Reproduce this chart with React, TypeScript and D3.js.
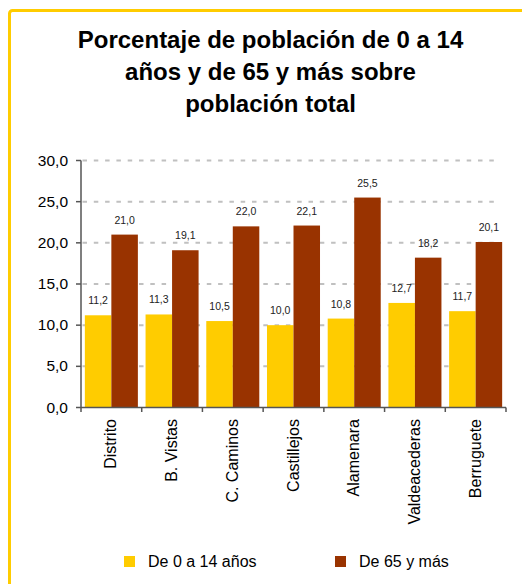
import React from "react";
import * as d3 from "d3";

const categories = ["Distrito", "B. Vistas", "C. Caminos", "Castillejos", "Alamenara", "Valdeacederas", "Berruguete"];
const seriesNames = ["De 0 a 14 años", "De 65 y más"];
const young = [11.2, 11.3, 10.5, 10.0, 10.8, 12.7, 11.7];
const old = [21.0, 19.1, 22.0, 22.1, 25.5, 18.2, 20.1];
const yTicks = [0, 5, 10, 15, 20, 25, 30];
const titleLines = ["Porcentaje de población de 0 a 14", "años y de 65 y más sobre", "población total"];
const colors = ["#FFCC00", "#993300"];

const W = 522;
const H = 584;
const FONT = "Arial, 'Liberation Sans', Helvetica, sans-serif";

export default function App() {
  const x0 = 81;
  const x1 = 506;
  const yBottom = 407.5;
  const yTop = 160.5;

  const x = d3.scaleBand<string>().domain(categories).range([x0, x1]).paddingInner(0).paddingOuter(0);
  const inner = d3
    .scaleBand<string>()
    .domain(["0", "1"])
    .range([0, x.bandwidth()])
    .paddingInner(0)
    .paddingOuter(0.145);
  const y = d3.scaleLinear().domain([0, 30]).range([yBottom, yTop]);
  const fmt = (v: number) => v.toFixed(1).replace(".", ",");
  const series = [young, old];

  return (
    <svg
      width={W}
      height={H}
      style={{ position: "absolute", left: 0, top: 0, display: "block", background: "#fff" }}
      fontFamily={FONT}
    >
      <rect x={9.5} y={10.5} width={700} height={800} rx={3} fill="none" stroke="#FFCC00" strokeWidth={3} />

      {titleLines.map((t, i) => (
        <text key={i} x={270.5} y={47.5 + i * 32} textAnchor="middle" fontSize={24} fontWeight="bold" fill="#000">
          {t}
        </text>
      ))}

      {/* gridlines */}
      {yTicks
        .filter((t) => t > 0)
        .map((t) => (
          <line
            key={"g" + t}
            x1={x0 + 1.5}
            x2={500}
            y1={y(t)}
            y2={y(t)}
            stroke="#c0c0c0"
            strokeWidth={2}
            strokeDasharray="4.5,6.8"
          />
        ))}

      {/* bars */}
      {categories.map((c, i) => (
        <g key={c} transform={`translate(${x(c)},0)`}>
          {series.map((s, k) => (
            <rect
              key={k}
              x={inner(String(k))}
              y={y(s[i])}
              width={inner.bandwidth()}
              height={yBottom - y(s[i])}
              fill={colors[k]}
            />
          ))}
          {series.map((s, k) => (
            <text
              key={"l" + k}
              x={(inner(String(k)) || 0) + inner.bandwidth() / 2}
              y={y(s[i]) - 11}
              textAnchor="middle"
              fontSize={10.5}
              fill="#222"
            >
              {fmt(s[i])}
            </text>
          ))}
        </g>
      ))}

      {/* y axis */}
      <line x1={x0} x2={x0} y1={yTop} y2={yBottom} stroke="#555" strokeWidth={1.5} />
      {yTicks.map((t) => (
        <g key={"yt" + t}>
          <line x1={x0 - 5} x2={x0} y1={y(t)} y2={y(t)} stroke="#555" strokeWidth={1.5} />
          <text x={68} y={y(t) + 5} textAnchor="end" fontSize={15.5} fill="#000">
            {fmt(t)}
          </text>
        </g>
      ))}

      {/* x axis */}
      <line x1={x0} x2={x1} y1={yBottom} y2={yBottom} stroke="#555" strokeWidth={1.5} />
      {categories.map((c) => (
        <line key={"xt" + c} x1={(x(c) || 0) + x.bandwidth()} x2={(x(c) || 0) + x.bandwidth()} y1={yBottom} y2={yBottom + 4.5} stroke="#555" strokeWidth={1.5} />
      ))}
      <line x1={x0} x2={x0} y1={yBottom} y2={yBottom + 4.5} stroke="#555" strokeWidth={1.5} />
      {categories.map((c) => {
        const cx = (x(c) || 0) + x.bandwidth() / 2 + 5;
        return (
          <text key={"xl" + c} transform={`translate(${cx},419) rotate(-90)`} textAnchor="end" fontSize={16} fill="#000">
            {c}
          </text>
        );
      })}

      {/* legend */}
      {seriesNames.map((n, k) => {
        const lx = [124, 335][k];
        return (
          <g key={"lg" + k}>
            <rect x={lx} y={556} width={11} height={11} fill={colors[k]} />
            <text x={lx + 24} y={567} fontSize={16} fill="#000">
              {n}
            </text>
          </g>
        );
      })}
    </svg>
  );
}
